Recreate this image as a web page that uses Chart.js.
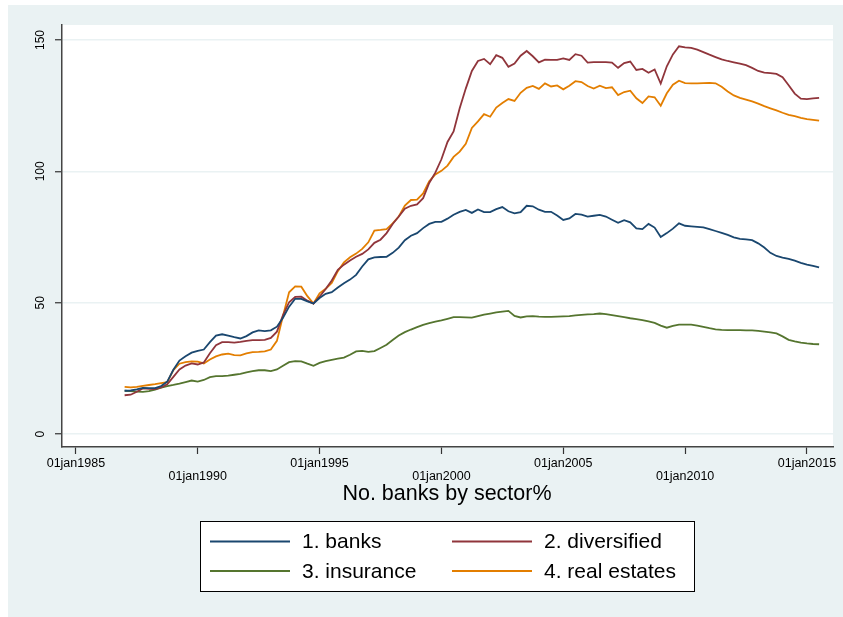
<!DOCTYPE html>
<html>
<head>
<meta charset="utf-8">
<script src="https://cdn.jsdelivr.net/npm/chart.js@4.4.1/dist/chart.umd.min.js"></script>
<style>
  html, body { margin: 0; padding: 0; background: #ffffff; }
  canvas { display: block; }
</style>
</head>
<body>
<canvas id="chart" width="843" height="617"></canvas>
<script>
// Quarterly observation dates (decimal years)
const dates = [
  1987.00,1987.25,1987.50,1987.75, 1988.00,1988.25,1988.50,1988.75, 1989.00,1989.25,1989.50,1989.75,
  1990.00,1990.25,1990.50,1990.75, 1991.00,1991.25,1991.50,1991.75, 1992.00,1992.25,1992.50,1992.75,
  1993.00,1993.25,1993.50,1993.75, 1994.00,1994.25,1994.50,1994.75, 1995.00,1995.25,1995.50,1995.75,
  1996.00,1996.25,1996.50,1996.75, 1997.00,1997.25,1997.50,1997.75, 1998.00,1998.25,1998.50,1998.75,
  1999.00,1999.25,1999.50,1999.75, 2000.00,2000.25,2000.50,2000.75, 2001.00,2001.25,2001.50,2001.75,
  2002.00,2002.25,2002.50,2002.75, 2003.00,2003.25,2003.50,2003.75, 2004.00,2004.25,2004.50,2004.75,
  2005.00,2005.25,2005.50,2005.75, 2006.00,2006.25,2006.50,2006.75, 2007.00,2007.25,2007.50,2007.75,
  2008.00,2008.25,2008.50,2008.75, 2009.00,2009.25,2009.50,2009.75, 2010.00,2010.25,2010.50,2010.75,
  2011.00,2011.25,2011.50,2011.75, 2012.00,2012.25,2012.50,2012.75, 2013.00,2013.25,2013.50,2013.75,
  2014.00,2014.25,2014.50,2014.75, 2015.00,2015.25,2015.50
];

const banks = [
  16.5,16.6,17.0,17.6, 17.5,17.5,18.3,20.0, 24.5,28.0,29.6,31.0,
  31.7,32.2,35.0,37.5, 38.0,37.5,36.9,36.4, 37.3,38.7,39.5,39.2,
  39.5,40.9,44.3,48.5, 51.5,51.5,50.5,49.7, 51.8,53.4,54.0,55.8,
  57.4,58.8,60.6,63.8, 66.5,67.3,67.4,67.5, 69.0,71.0,73.8,75.5,
  76.5,78.4,80.0,80.8, 80.8,82.0,83.5,84.6, 85.3,84.2,85.5,84.5,
  84.5,85.6,86.4,84.8, 84.0,84.5,86.9,86.7, 85.4,84.6,84.6,83.2,
  81.5,82.1,83.8,83.5, 82.8,83.1,83.4,82.8, 81.6,80.4,81.4,80.6,
  78.3,78.0,80.0,78.6, 75.0,76.5,78.2,80.2, 79.3,79.1,78.9,78.7,
  78.0,77.3,76.6,75.8, 74.9,74.3,74.1,73.8, 72.6,71.0,69.0,67.8,
  67.2,66.7,66.0,65.2, 64.5,64.0,63.5
];

const diversified = [
  14.8,15.0,16.1,17.4, 17.2,17.1,17.8,19.0, 21.8,24.6,26.1,26.9,
  26.5,27.3,30.8,33.8, 35.0,35.0,34.8,35.1, 35.5,35.8,35.8,35.9,
  36.6,39.0,45.3,50.2, 52.2,52.3,50.8,49.7, 52.3,55.2,58.5,62.5,
  64.5,66.1,67.5,68.6, 70.3,72.8,74.0,76.5, 80.0,82.8,85.8,86.9,
  87.4,89.8,95.6,99.5, 104.6,111.2,115.2,124.0, 131.5,138.2,142.0,142.8,
  140.8,144.2,143.2,139.8, 141.0,144.0,145.8,143.8, 141.5,142.5,142.4,142.4,
  143.0,142.4,144.6,144.0, 141.4,141.6,141.6,141.6, 141.4,139.4,141.2,141.8,
  138.6,139.0,137.5,138.8, 133.4,140.0,144.5,147.6, 147.2,147.0,146.3,145.4,
  144.4,143.5,142.6,142.0, 141.5,141.0,140.4,139.4, 138.2,137.6,137.4,137.1,
  135.8,132.8,129.6,127.7, 127.5,127.8,128.0
];

const insurance = [
  16.5,16.4,16.2,16.1, 16.4,16.9,17.7,18.3, 18.7,19.2,19.8,20.4,
  20.0,20.6,21.7,22.1, 22.1,22.3,22.6,22.9, 23.5,24.0,24.3,24.3,
  24.0,24.6,26.0,27.4, 27.8,27.7,26.8,26.0, 27.1,27.8,28.3,28.7,
  29.1,30.2,31.5,31.7, 31.3,31.6,32.8,34.0, 35.8,37.5,38.8,39.8,
  40.7,41.6,42.2,42.8, 43.3,43.9,44.5,44.5, 44.4,44.3,44.9,45.5,
  45.9,46.3,46.6,46.9, 45.0,44.4,44.8,44.9, 44.7,44.6,44.6,44.7,
  44.8,44.9,45.2,45.4, 45.6,45.7,45.9,45.7, 45.3,44.9,44.5,44.1,
  43.8,43.4,42.9,42.3, 41.3,40.5,41.2,41.7, 41.7,41.7,41.3,40.8,
  40.3,39.9,39.7,39.6, 39.6,39.6,39.5,39.5, 39.3,39.0,38.7,38.3,
  37.2,35.9,35.3,34.8, 34.5,34.3,34.2
];

const realEstates = [
  18.0,17.8,18.0,18.4, 18.7,19.0,19.4,19.8, 24.4,26.8,27.4,27.7,
  27.6,26.9,28.4,29.6, 30.3,30.6,30.1,30.0, 30.7,31.2,31.3,31.5,
  32.2,35.5,45.0,54.0, 56.2,56.1,52.5,49.7, 53.6,55.3,57.5,62.0,
  65.4,67.3,68.7,70.5, 73.0,77.5,77.7,78.0, 80.2,82.8,87.0,89.1,
  89.2,91.6,96.2,98.8, 100.2,102.2,105.5,107.5, 110.5,116.5,119.0,121.8,
  120.8,124.3,126.0,127.5, 126.8,129.9,131.8,132.5, 131.4,133.5,132.3,132.7,
  131.2,132.6,134.3,134.0, 132.5,131.5,132.6,131.7, 132.0,129.0,130.2,130.7,
  127.8,126.0,128.5,128.2, 125.0,129.7,133.0,134.5, 133.6,133.5,133.5,133.6,
  133.7,133.5,132.2,130.4, 128.9,128.0,127.3,126.6, 125.8,124.8,124.0,123.2,
  122.3,121.5,121.0,120.4, 119.9,119.6,119.3
];

const seriesNames = ['1. banks', '2. diversified', '3. insurance', '4. real estates'];
const seriesValues = [banks, diversified, insurance, realEstates];
const seriesColors = ['#1a476f', '#90353b', '#55752f', '#e37e00'];

const xTickYears = [1985, 1990, 1995, 2000, 2005, 2010, 2015];
const yTickValues = [0, 50, 100, 150];
const axisTitle = 'No. banks by sector%';

const FONT = "'Liberation Sans', Arial, Helvetica, sans-serif";
const PANEL = '#eaf2f3';

// Backgrounds: outer panel and white plot region
const backgroundPlugin = {
  id: 'panelBackground',
  beforeDraw(chart) {
    const { ctx, chartArea: a, width, height } = chart;
    ctx.save();
    ctx.fillStyle = '#ffffff';
    ctx.fillRect(0, 0, width, height);
    ctx.fillStyle = PANEL;
    ctx.fillRect(8, 5, width - 8, height - 5);
    ctx.fillStyle = '#ffffff';
    ctx.fillRect(a.left, a.top, a.right - a.left, a.bottom - a.top);
    ctx.restore();
  }
};

// Vertical y labels, axis title and boxed two-column legend
const annotationPlugin = {
  id: 'annotations',
  afterDraw(chart) {
    const { ctx } = chart;
    const y = chart.scales.y;
    ctx.save();
    ctx.fillStyle = '#000000';
    ctx.font = '12px ' + FONT;
    ctx.textAlign = 'center';
    ctx.textBaseline = 'middle';
    yTickValues.forEach(v => {
      const py = y.getPixelForValue(v);
      ctx.save();
      ctx.translate(41, py);
      ctx.rotate(-Math.PI / 2);
      ctx.fillText(String(v), 0, 0);
      ctx.restore();
    });

    ctx.font = '21.5px ' + FONT;
    ctx.fillText(axisTitle, 447, 494);

    // legend box
    const box = { x: 200, y: 521, w: 494, h: 70 };
    ctx.fillStyle = '#ffffff';
    ctx.fillRect(box.x, box.y, box.w, box.h);
    ctx.strokeStyle = '#000000';
    ctx.lineWidth = 1;
    ctx.strokeRect(box.x + 0.5, box.y + 0.5, box.w, box.h);

    const cols = [{ lx: 210, tx: 302 }, { lx: 452, tx: 544 }];
    const rows = [541.5, 571];
    ctx.textAlign = 'left';
    ctx.font = '21px ' + FONT;
    chart.data.datasets.forEach((ds, i) => {
      const c = cols[i % 2];
      const ry = rows[Math.floor(i / 2)];
      ctx.strokeStyle = ds.borderColor;
      ctx.lineWidth = 2;
      ctx.beginPath();
      ctx.moveTo(c.lx, ry);
      ctx.lineTo(c.lx + 80, ry);
      ctx.stroke();
      ctx.fillStyle = '#000000';
      ctx.fillText(ds.label, c.tx, ry + 1);
    });
    ctx.restore();
  }
};

const datasets = seriesNames.map((name, i) => ({
  label: name,
  data: dates.map((d, k) => ({ x: d, y: seriesValues[i][k] })),
  borderColor: seriesColors[i],
  backgroundColor: seriesColors[i],
  borderWidth: 1.8,
  pointRadius: 0,
  tension: 0,
  fill: false
}));

new Chart(document.getElementById('chart').getContext('2d'), {
  type: 'line',
  data: { datasets },
  options: {
    responsive: false,
    animation: false,
    devicePixelRatio: 1,
    layout: { padding: { top: 25, right: 10, left: 0, bottom: 0 } },
    plugins: { legend: { display: false }, tooltip: { enabled: false } },
    scales: {
      x: {
        type: 'linear',
        min: 1984.43,
        max: 2016.07,
        afterBuildTicks(s) { s.ticks = xTickYears.map(v => ({ value: v })); },
        afterFit(s) { s.height = 170; },
        grid: { drawOnChartArea: false, drawTicks: true, tickLength: 7, tickColor: '#333333', tickWidth: 1.2 },
        border: { display: true, color: '#444444', width: 1.5 },
        ticks: {
          autoSkip: false, maxRotation: 0, minRotation: 0, padding: 3,
          color: '#000000',
          font: { family: FONT, size: 12.5, lineHeight: 1.05 },
          callback: (v, i) => (i % 2 ? ['', '01jan' + v] : '01jan' + v)
        }
      },
      y: {
        min: -4.9,
        max: 155.7,
        afterBuildTicks(s) { s.ticks = yTickValues.map(v => ({ value: v })); },
        afterFit(s) { s.width = 62; },
        grid: { color: PANEL, lineWidth: 1.5, drawTicks: true, tickLength: 7, tickColor: '#333333', tickWidth: 1.2 },
        border: { display: true, color: '#444444', width: 1.5 },
        ticks: { display: false }
      }
    }
  },
  plugins: [backgroundPlugin, annotationPlugin]
});
</script>
</body>
</html>
